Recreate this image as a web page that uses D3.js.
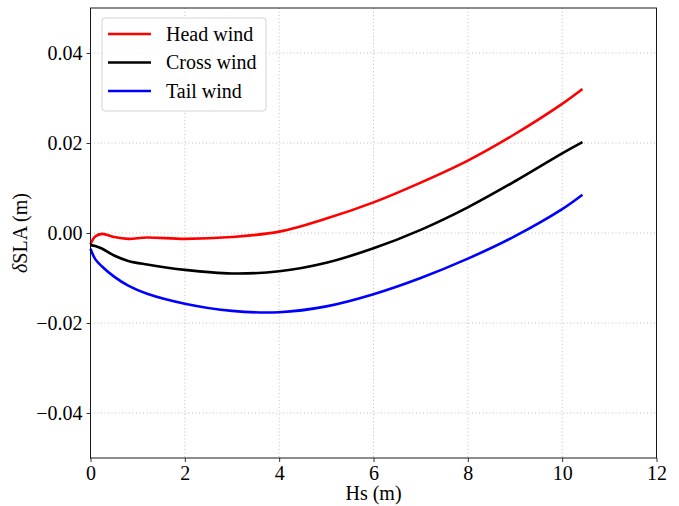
<!DOCTYPE html>
<html><head><meta charset="utf-8">
<script src="https://cdn.jsdelivr.net/npm/d3@7"></script>
<style>body{margin:0;background:#fff;} svg{display:block;} text{font-family:"Liberation Serif","DejaVu Serif",serif;}</style>
</head><body>
<svg id="c" width="679" height="506"></svg>
<script>
const hs = [0, 0.1, 0.25, 0.5, 0.8, 1.2, 2, 3, 4, 5, 6, 7, 8, 9, 10, 10.43];
const headWind  = [-0.0025, -0.0008, -0.0002, -0.0009, -0.0013, -0.0010, -0.0013, -0.0009, 0.0003, 0.0032, 0.0068, 0.0112, 0.0161, 0.0220, 0.0287, 0.0320];
const crossWind = [-0.0027, -0.0029, -0.0035, -0.0050, -0.0062, -0.0070, -0.0082, -0.0090, -0.0085, -0.0066, -0.0034, 0.0007, 0.0057, 0.0115, 0.0177, 0.0202];
const tailWind  = [-0.0035, -0.0058, -0.0075, -0.0097, -0.0117, -0.0135, -0.0157, -0.0173, -0.0176, -0.0163, -0.0136, -0.0100, -0.0057, -0.0007, 0.0053, 0.0085];
const seriesNames = ["Head wind", "Cross wind", "Tail wind"];
const seriesColors = ["#ff0000", "#000000", "#0000ff"];
const xTicks = [0, 2, 4, 6, 8, 10, 12];
const yTicks = [-0.04, -0.02, 0.00, 0.02, 0.04];

const svg = d3.select("#c");
const L = 90.5, R = 656.5, T = 8, B = 458;
const x = d3.scaleLinear().domain([0, 12]).range([L, R]);
const y = d3.scaleLinear().domain([-0.05, 0.05]).range([B, T]);

// grid
const g = svg.append("g");
g.selectAll(".gx").data(xTicks.slice(1, -1)).enter().append("line")
  .attr("x1", d => x(d)).attr("x2", d => x(d)).attr("y1", T).attr("y2", B)
  .attr("stroke", "#b0b0b0").attr("stroke-width", 0.8).attr("stroke-dasharray", "1,2.5");
g.selectAll(".gy").data(yTicks).enter().append("line")
  .attr("x1", L).attr("x2", R).attr("y1", d => y(d)).attr("y2", d => y(d))
  .attr("stroke", "#b0b0b0").attr("stroke-width", 0.8).attr("stroke-dasharray", "1,2.5");

// lines
const data = [headWind, crossWind, tailWind];
const line = d3.line().x((d, i) => x(hs[i])).y(d => y(d)).curve(d3.curveCatmullRom.alpha(0.5));
data.forEach((s, k) => {
  svg.append("path").datum(s).attr("d", line).attr("fill", "none")
    .attr("stroke", seriesColors[k]).attr("stroke-width", 2.6);
});

// axes
const xAxis = d3.axisBottom(x).tickValues(xTicks).tickFormat(d3.format("d")).tickSize(4).tickPadding(4);
const yAxis = d3.axisLeft(y).tickValues(yTicks).tickFormat(d => d < 0 ? "\u2212" + d3.format(".2f")(-d) : d3.format(".2f")(d)).tickSize(4).tickPadding(4);
const gx = svg.append("g").attr("transform", `translate(0,${B})`).call(xAxis);
const gy = svg.append("g").attr("transform", `translate(${L},0)`).call(yAxis);
[gx, gy].forEach(a => {
  a.select(".domain").remove();
  a.selectAll("text").attr("font-size", 20).attr("fill", "#000").style("font-family", '"Liberation Serif", serif');
  a.selectAll("line").attr("stroke", "#000").attr("stroke-width", 0.8);
});
svg.append("rect").attr("x", L).attr("y", T).attr("width", R - L).attr("height", B - T)
  .attr("fill", "none").attr("stroke", "#000").attr("stroke-width", 0.9);

// axis titles
svg.append("text").attr("x", (L + R) / 2).attr("y", 500).attr("text-anchor", "middle")
  .attr("font-size", 20).text("Hs (m)");
const yl = svg.append("text").attr("transform", `translate(27,${(T + B) / 2}) rotate(-90)`)
  .attr("text-anchor", "middle").attr("font-size", 20);
yl.append("tspan").attr("font-style", "italic").text("δ");
yl.append("tspan").text("SLA (m)");

// legend
const lg = svg.append("g");
lg.append("rect").attr("x", 102).attr("y", 18).attr("width", 164).attr("height", 93).attr("rx", 3)
  .attr("fill", "#fff").attr("fill-opacity", 0.8).attr("stroke", "#d5d5d5").attr("stroke-width", 1);
seriesNames.forEach((n, i) => {
  const yy = 34 + i * 28.5;
  lg.append("line").attr("x1", 108).attr("x2", 151).attr("y1", yy).attr("y2", yy)
    .attr("stroke", seriesColors[i]).attr("stroke-width", 2.6);
  lg.append("text").attr("x", 166).attr("y", yy + 6.5).attr("font-size", 20).text(n);
});
</script>
</body></html>
